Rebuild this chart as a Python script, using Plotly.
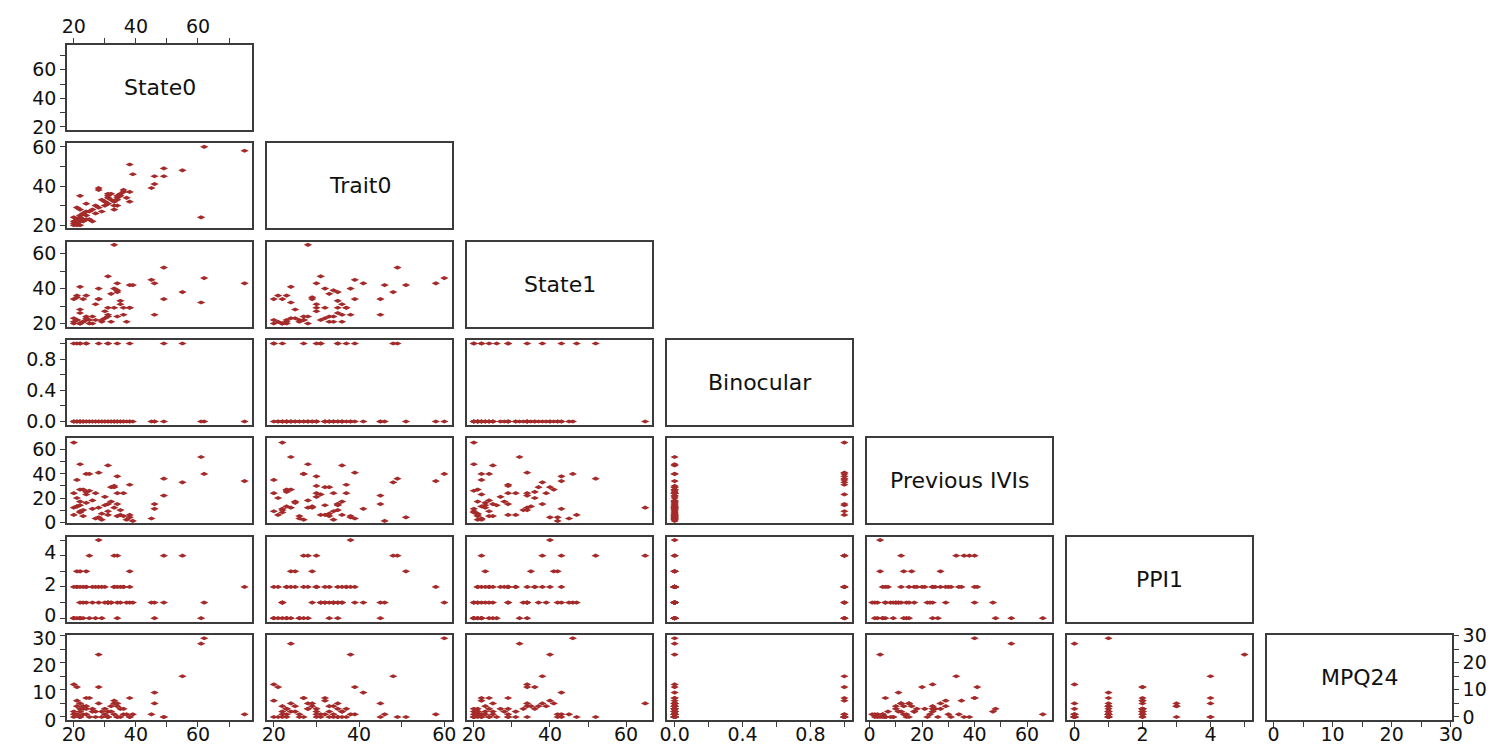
import plotly.graph_objects as go

# Variables of the scatterplot matrix (one entry per subject)
var_names = ["State0", "Trait0", "State1", "Binocular", "Previous IVIs", "PPI1", "MPQ24"]

state0 = [75, 62, 61, 55, 49, 49, 46, 46, 45, 38,
          39, 33, 20, 28, 31, 21, 24, 28, 34, 38,
          22, 24, 22, 31, 22, 31, 25, 23, 20, 21,
          22, 23, 24, 22, 20, 21, 20, 22, 23, 24,
          25, 26, 27, 28, 27, 29, 30, 30, 31, 32,
          33, 34, 34, 35, 35, 33, 36, 38, 37, 34,
          21, 26, 29, 32, 36]
trait0 = [58, 60, 24, 48, 49, 45, 45, 41, 39, 51,
          46, 28, 22, 38, 31, 20, 27, 39, 30, 37,
          35, 31, 20, 35, 28, 36, 27, 23, 20, 21,
          24, 22, 23, 25, 21, 23, 24, 22, 26, 25,
          23, 28, 30, 29, 26, 33, 32, 30, 34, 33,
          32, 35, 34, 35, 36, 30, 37, 32, 34, 33,
          29, 22, 27, 36, 38]
state1 = [43, 46, 32, 38, 52, 34, 25, 43, 45, 42,
          42, 65, 20, 40, 47, 22, 24, 34, 43, 29,
          26, 22, 20, 29, 20, 25, 22, 21, 34, 36,
          41, 34, 36, 28, 21, 22, 23, 20, 21, 23,
          20, 24, 31, 34, 22, 21, 23, 27, 24, 37,
          40, 38, 39, 33, 31, 29, 29, 29, 21, 24,
          35, 20, 22, 21, 25]
binocular = [0, 0, 0, 1, 1, 0, 0, 0, 0, 0,
             0, 0, 1, 0, 1, 1, 1, 1, 1, 1,
             1, 1, 1, 1, 0, 0, 0, 0, 0, 0,
             0, 0, 0, 0, 0, 0, 0, 0, 0, 0,
             0, 0, 0, 0, 0, 0, 0, 0, 0, 0,
             0, 0, 0, 0, 0, 0, 0, 0, 0, 0,
             0, 0, 0, 0, 0]
prev_ivis = [34, 40, 54, 33, 36, 22, 15, 11, 3, 4,
             1, 12, 66, 4, 6, 35, 40, 41, 38, 31,
             14, 23, 9, 15, 48, 47, 40, 27, 24, 20,
             27, 10, 25, 17, 6, 13, 12, 8, 5, 16,
             26, 18, 24, 12, 3, 7, 14, 21, 9, 29,
             29, 15, 24, 10, 6, 30, 24, 6, 2, 5,
             13, 11, 2, 17, 5]
ppi1 = [2, 1, 0, 4, 4, 1, 0, 1, 1, 3,
        1, 4, 0, 5, 1, 2, 2, 2, 4, 2,
        0, 1, 0, 1, 0, 1, 4, 2, 0, 2,
        3, 1, 2, 2, 0, 0, 2, 1, 0, 3,
        0, 2, 2, 1, 0, 2, 1, 2, 1, 1,
        2, 2, 1, 1, 2, 2, 2, 1, 1, 0,
        3, 1, 0, 1, 2]
mpq24 = [1, 29, 27, 15, 0, 0, 5, 9, 1, 0,
         1, 5, 1, 23, 0, 6, 7, 11, 0, 0,
         0, 1, 0, 0, 3, 2, 7, 3, 12, 11,
         5, 4, 3, 2, 0, 1, 2, 0, 1, 4,
         0, 3, 2, 5, 0, 2, 1, 3, 0, 4,
         6, 5, 4, 3, 0, 1, 3, 7, 1, 0,
         4, 2, 0, 2, 1]

columns = [state0, trait0, state1, binocular, prev_ivis, ppi1, mpq24]

# Axis ranges and tick labelling per variable (labels every other tick)
ranges = [[17.8, 77.4], [18.4, 61.8], [18.2, 66.8], [-0.045, 1.045],
          [-1.0, 69.5], [-0.22, 5.22], [-1.1, 30.2]]
tick_vals = [
    [20, 30, 40, 50, 60, 70],
    [20, 30, 40, 50, 60],
    [20, 30, 40, 50, 60],
    [0, 0.2, 0.4, 0.6, 0.8, 1.0],
    [0, 10, 20, 30, 40, 50, 60],
    [0, 1, 2, 3, 4, 5],
    [0, 5, 10, 15, 20, 25, 30],
]
tick_text = [
    ["20", "", "40", "", "60", ""],
    ["20", "", "40", "", "60"],
    ["20", "", "40", "", "60"],
    ["0.0", "", "0.4", "", "0.8", ""],
    ["0", "", "20", "", "40", "", "60"],
    ["0", "", "2", "", "4", ""],
    ["0", "", "10", "", "20", "", "30"],
]

W, H = 1502, 748
N = len(var_names)
PANEL_W, PANEL_H = 185, 85
POINT_COLOR = "#A52A2A"
LINE_COLOR = "#3c3c3c"
FONT = "DejaVu Sans, Arial, sans-serif"
TICK_FONT = dict(family=FONT, size=19, color="#111111")

# small vertical nudges (px, positive = down) of the y tick labels of the
# two bottom rows so that neighbouring labels do not collide
y_label_shift = {N - 2: -3, N - 1: 3}


def x_domain(col):
    left = 67 + 200 * col
    return [left / W, (left + PANEL_W) / W]


def y_domain(row):
    top = 45 + 98.33 * row
    return [1 - (top + PANEL_H) / H, 1 - top / H]


fig = go.Figure()
layout_axes = {}
annotations = []
k = 0
for row in range(N):
    for col in range(row + 1):
        k += 1
        xa = "x" if k == 1 else f"x{k}"
        ya = "y" if k == 1 else f"y{k}"
        xkey = "xaxis" if k == 1 else f"xaxis{k}"
        ykey = "yaxis" if k == 1 else f"yaxis{k}"

        base = dict(showline=True, mirror=True, linecolor=LINE_COLOR, linewidth=1.5,
                    showgrid=False, zeroline=False, ticks="", showticklabels=False,
                    fixedrange=True, automargin=False)
        xaxis = dict(base, domain=x_domain(col), range=ranges[col], anchor=ya)
        yaxis = dict(base, domain=y_domain(row), range=ranges[row], anchor=xa)

        labelled = dict(ticks="outside", ticklen=5, tickwidth=1.3, tickcolor=LINE_COLOR,
                        showticklabels=True, tickfont=TICK_FONT, tickmode="array")
        if row == N - 1:
            xaxis.update(labelled, tickvals=tick_vals[col], ticktext=tick_text[col],
                         ticklabelstandoff=-9)
        if row == 0 and col == 0:
            xaxis.update(labelled, side="top", tickvals=tick_vals[col], ticktext=tick_text[col],
                         ticklabelstandoff=-2)
        if col == 0:
            yaxis.update(labelled, tickvals=tick_vals[row], ticktext=tick_text[row],
                         ticklabelshift=y_label_shift.get(row, 0))
        if row == N - 1 and col == N - 1:
            yaxis.update(labelled, side="right", tickvals=tick_vals[row], ticktext=tick_text[row])

        layout_axes[xkey] = xaxis
        layout_axes[ykey] = yaxis

        if row == col:
            fig.add_trace(go.Scatter(x=[None], y=[None], xaxis=xa, yaxis=ya,
                                     mode="markers", showlegend=False, hoverinfo="skip"))
            annotations.append(dict(text=var_names[row], xref=f"{xa} domain", yref=f"{ya} domain",
                                    x=0.5, y=0.5, showarrow=False,
                                    font=dict(family=FONT, size=22, color="#111111")))
        else:
            fig.add_trace(go.Scatter(
                x=columns[col], y=columns[row], xaxis=xa, yaxis=ya, mode="markers",
                marker=dict(symbol="diamond-wide", size=6, color=POINT_COLOR, line=dict(width=0)),
                showlegend=False,
                hovertemplate=f"{var_names[col]}: %{{x}}<br>{var_names[row]}: %{{y}}<extra></extra>",
            ))

fig.update_layout(
    width=W, height=H,
    margin=dict(l=0, r=0, t=0, b=0, pad=0, autoexpand=False),
    paper_bgcolor="white", plot_bgcolor="white",
    annotations=annotations,
    **layout_axes,
)

fig.write_html("out.html")
